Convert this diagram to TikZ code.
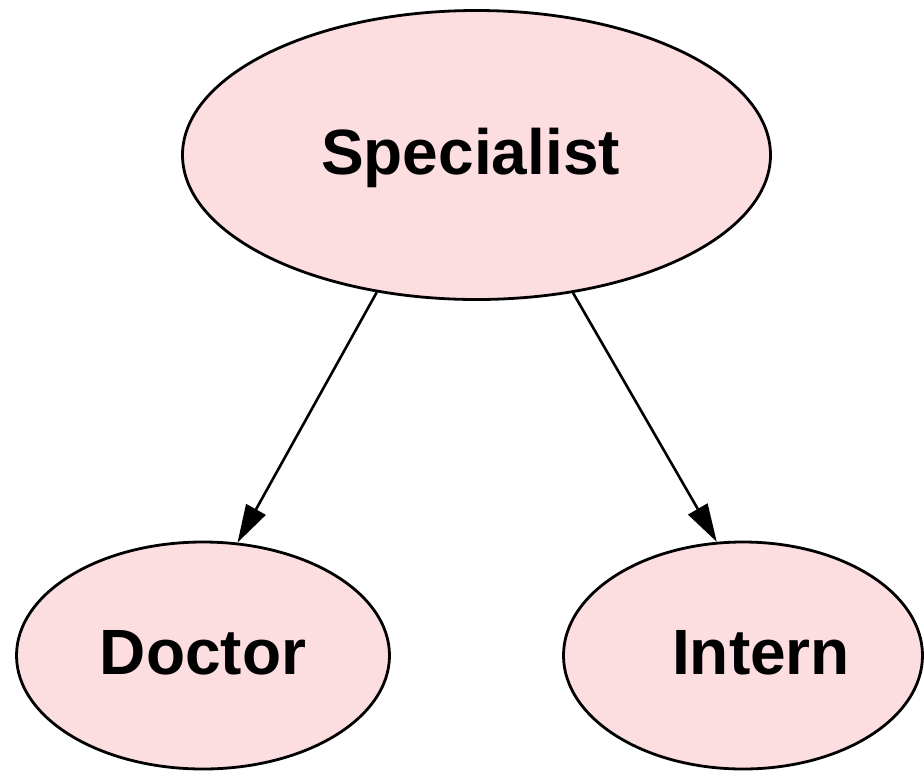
\documentclass[tikz,border=0pt]{standalone}
\usepackage{fontspec}
\setmainfont{Liberation Sans}
\usetikzlibrary{shapes.geometric,arrows.meta}
\definecolor{rosa}{RGB}{253,222,224}
\begin{document}
\begin{tikzpicture}[x=1pt, y=-1pt]
  \useasboundingbox (0,0) rectangle (924,772);

  \tikzstyle{rolle}=[ellipse, draw, line width=2.8pt, fill=rosa, inner sep=0pt,
    font=\fontsize{64}{77}\selectfont\bfseries, text height=46pt, text depth=8pt]
  \tikzstyle{kante}=[line width=2.6pt, -{Triangle[length=38pt, width=22pt]}]

  % Knoten
  \node[rolle, minimum width=588pt, minimum height=289pt] (spec) at (476.5,155) {Specialist\hspace*{12pt}};
  \node[rolle, minimum width=373pt, minimum height=227pt] (doc) at (203,655.5) {Doctor};
  \node[rolle, minimum width=359pt, minimum height=227pt] (intern) at (743,655.5) {\hspace*{36pt}Intern};

  % Kanten
  \draw[kante] (spec.234) -- (doc.73);
  \draw[kante] (spec.305) -- (intern.103);
\end{tikzpicture}
\end{document}
